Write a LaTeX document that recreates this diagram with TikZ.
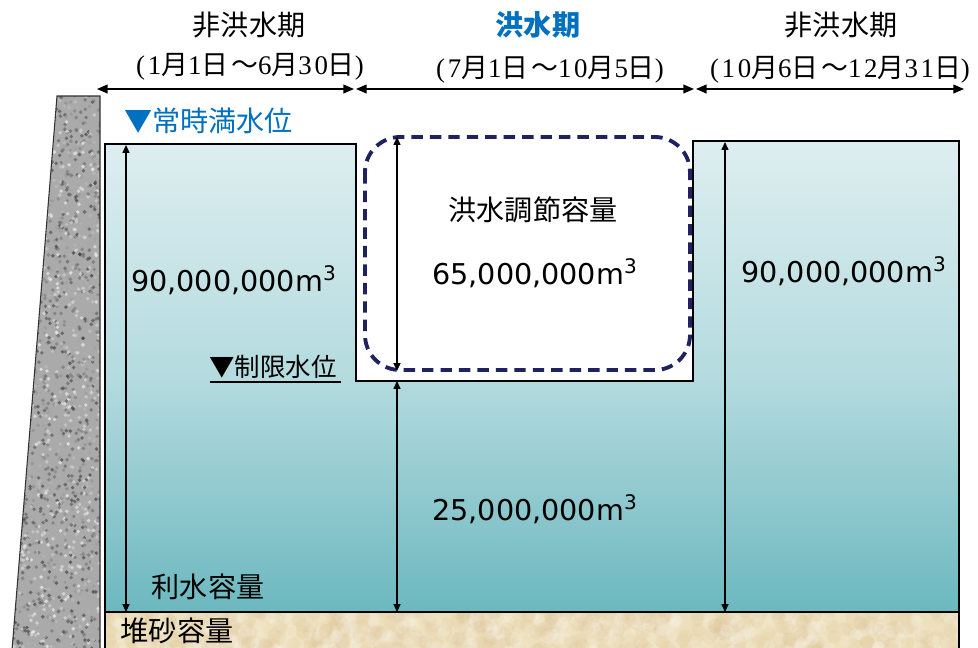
\documentclass[tikz,border=0pt]{standalone}
\usepackage{fontspec}
\setmainfont{Liberation Serif}
\newfontfamily\jp{Noto Sans CJK JP}
\newfontfamily\numfont{DejaVu Sans}
\newfontfamily\datefont[LetterSpace=10]{Liberation Serif}
\newfontfamily\datejp[LetterSpace=10]{Noto Sans CJK JP}
\newcommand{\jtxt}[1]{{\datejp #1}}
\usetikzlibrary{arrows.meta, positioning, calc}

\definecolor{hdrblue}{RGB}{0,112,192}
\definecolor{navy}{RGB}{32,33,96}
\definecolor{watertop}{RGB}{222,238,240}
\definecolor{watermid}{RGB}{180,219,223}
\definecolor{waterbot}{RGB}{108,184,191}
\definecolor{sand}{RGB}{237,224,188}
\definecolor{rock}{RGB}{170,170,170}

\begin{document}
\begin{tikzpicture}[x=0.02cm, y=-0.02cm]
    % Define styles
    \tikzstyle{hdr} = [font=\jp\fontsize{16}{18}\selectfont, inner sep=0pt]
    \tikzstyle{date} = [font=\datefont\fontsize{15.3}{17}\selectfont, inner sep=0pt]
    \tikzstyle{lbl} = [font=\jp\fontsize{16}{18}\selectfont, inner sep=0pt]
    \tikzstyle{vol} = [font=\numfont\fontsize{16.3}{18}\selectfont, inner sep=0pt]
    \tikzstyle{dim} = [draw, line width=0.7pt, {Triangle[length=4.5pt,width=4pt]}-{Triangle[length=4.5pt,width=4pt]}]
    \tikzstyle{period} = [draw, line width=0.7pt, {Triangle[length=6pt,width=5pt]}-{Triangle[length=6pt,width=5pt]}]
    \tikzstyle{floodbox} = [draw=navy, line width=2.2pt, dash pattern=on 6.5pt off 4pt, rounded corners=20pt]

    \fill[white] (0,0) rectangle (978,647);
    \useasboundingbox (0,0) rectangle (978,647);

    % Dam body (granite)
    \begin{scope}
        \clip (57,96) -- (100,96) -- (100,650) -- (12,650) -- cycle;
        \fill[rock] (0,90) rectangle (105,650);
        \pgfmathsetseed{42}
        \foreach \i in {1,...,1800}{
            \pgfmathsetmacro{\px}{10+92*rnd}
            \pgfmathsetmacro{\py}{94+556*rnd}
            \pgfmathsetmacro{\sh}{int(5+70*rnd)}
            \fill[black!\sh, opacity=0.7] (\px,\py) circle (1.1pt);
        }
    \end{scope}
    \draw[line width=0.6pt, black!80] (12,650) -- (57,96) -- (100,96) -- (100,650);

    % Sediment
    \begin{scope}
        \clip (104,612) rectangle (959,650);
        \fill[sand] (104,612) rectangle (959,650);
        \pgfmathsetseed{7}
        \foreach \i in {1,...,400}{
            \pgfmathsetmacro{\px}{104+856*rnd}
            \pgfmathsetmacro{\py}{610+42*rnd}
            \fill[brown!30!sand, opacity=0.15] (\px,\py) circle (4pt);
            \fill[white, opacity=0.12] (\px+11,\py+5) circle (3.5pt);
        }
    \end{scope}
    \draw[line width=0.6pt] (105,612) -- (105,650);
    \draw[line width=0.6pt] (959,612) -- (959,650);

    % Water body
    \shade[top color=watertop, bottom color=waterbot, middle color=watermid]
        (105,612) -- (105,144) -- (356,144) -- (356,381) -- (693,381)
        -- (693,141) -- (959,141) -- (959,612) -- cycle;
    \draw[line width=0.7pt]
        (105,612) -- (105,144) -- (356,144) -- (356,381) -- (693,381)
        -- (693,141) -- (959,141) -- (959,612) -- cycle;

    % Flood control capacity
    \draw[floodbox] (365,137) rectangle (690,370);

    % Period headers
    \node[hdr] (h1) at (249,25) {非洪水期};
    \node[hdr, text=hdrblue, font=\jp\bfseries\fontsize{16}{18}\selectfont] (h2) at (538,25) {洪水期};
    \node[hdr] (h3) at (841,25) {非洪水期};
    \node[date] (d1) at (250,67) {(1\jtxt{月}1\jtxt{日～}6\jtxt{月}30\jtxt{日})};
    \node[date] (d2) at (550,70) {(7\jtxt{月}1\jtxt{日～}10\jtxt{月}5\jtxt{日})};
    \node[date] (d3) at (840,70) {(10\jtxt{月}6\jtxt{日～}12\jtxt{月}31\jtxt{日})};

    % Period arrows
    \coordinate (P0) at (97,89);
    \coordinate (P1a) at (354,89);
    \coordinate (P1b) at (356,89);
    \coordinate (P2a) at (694,89);
    \coordinate (P2b) at (696,89);
    \coordinate (P3) at (964,89);
    \draw[period] (P0) -- (P1a);
    \draw[period] (P1b) -- (P2a);
    \draw[period] (P2b) -- (P3);

    % Water levels
    \node[lbl, text=hdrblue, anchor=west] (nwl) at (124,121) {▼常時満水位};
    \node[lbl, anchor=west, font=\jp\fontsize{14.5}{16}\selectfont] (lim) at (209,367) {▼制限水位};
    \coordinate (limL) at (210,382);
    \coordinate (limR) at (341,382);
    \draw[line width=1pt] (limL) -- (limR);

    % Capacity arrows
    \coordinate (A1t) at (126,145);
    \coordinate (A1b) at (126,612);
    \coordinate (A2t) at (397,137);
    \coordinate (A2b) at (397,371);
    \coordinate (A3t) at (397,381);
    \coordinate (A3b) at (397,612);
    \coordinate (A4t) at (725,142);
    \coordinate (A4b) at (725,612);
    \draw[dim] (A1b) -- (A1t);
    \draw[dim] (A2b) -- (A2t);
    \draw[dim] (A3b) -- (A3t);
    \draw[dim] (A4b) -- (A4t);

    % Capacity labels
    \node[vol] (v1) at (234,280) {90,000,000m\textsuperscript{3}};
    \node[lbl] (fc) at (533,210) {洪水調節容量};
    \node[vol] (v2) at (535,273) {65,000,000m\textsuperscript{3}};
    \node[vol] (v3) at (844,271) {90,000,000m\textsuperscript{3}};
    \node[vol] (v4) at (535,509) {25,000,000m\textsuperscript{3}};
    \node[lbl] (uw) at (208,587) {利水容量};
    \node[lbl] (sd) at (177,631) {堆砂容量};
\end{tikzpicture}
\end{document}
